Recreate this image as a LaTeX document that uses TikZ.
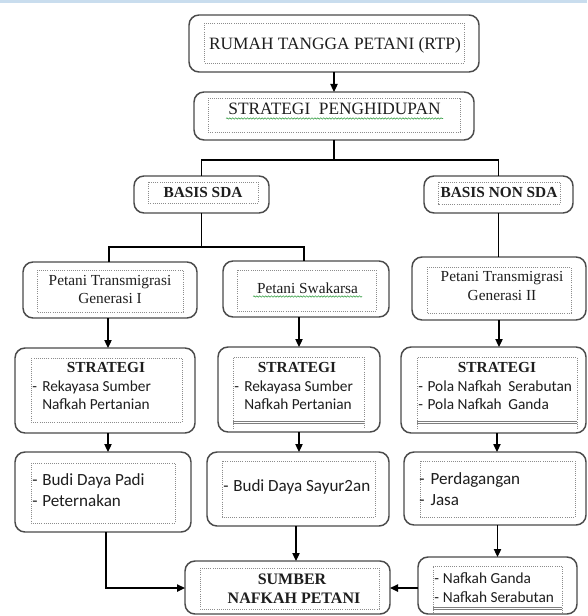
\documentclass[tikz,border=0pt]{standalone}
\usepackage{fontspec}
\setmainfont{Liberation Serif}
\newfontfamily\calfont{Carlito}
\usetikzlibrary{arrows.meta,decorations.pathmorphing,calc}
\definecolor{boxgray}{HTML}{4A4A4A}
\definecolor{dotgray}{HTML}{8C8C8C}
\definecolor{txt}{HTML}{1E1E1E}
\definecolor{topbar}{HTML}{C9DDEE}
\definecolor{squiggreen}{HTML}{3FA34D}
\begin{document}
\begin{tikzpicture}[x=0.75pt,y=-0.75pt,
  obox/.style 2 args={draw=boxgray, line width=1.1pt, rounded corners=7.5pt,
    minimum width=#1*0.75pt, minimum height=#2*0.75pt, inner sep=0pt, outer sep=0pt},
  ibox/.style={draw=dotgray, densely dotted, line width=0.6pt},
  dblline/.style={draw=dotgray!90!black, line width=0.5pt},
  ln/.style={draw=black, line width=0.9pt},
  arr/.style={ln, -{Triangle[length=6pt,width=5.5pt]}},
  ttl/.style={inner sep=0pt, anchor=base, text=txt, font=\fontsize{13}{15}\selectfont},
  bttl/.style={inner sep=0pt, anchor=base, text=txt, font=\bfseries\fontsize{11.5}{13}\selectfont},
  pttl/.style={inner sep=0pt, anchor=base, text=txt, font=\fontsize{11.5}{13}\selectfont},
  blist/.style={inner sep=0pt, anchor=base west, text=txt, font=\calfont\fontsize{11.5}{#1}\selectfont},
  squig/.style={draw=squiggreen, line width=0.45pt, decorate,
    decoration={snake, amplitude=0.5pt, segment length=2.2pt}}
]
\useasboundingbox (0,0) rectangle (587,616);
\fill[white] (0,0) rectangle (587,616);
\fill[topbar] (0,0) rectangle (587,3);

% Row 1
\node[obox={290}{57}] (rtp) at (334,43.5) {};
\draw[ibox] (204,23) rectangle (464,63);
\node[ttl] (rtpt) at (335,50) {RUMAH TANGGA PETANI (RTP)};

\node[obox={280}{48}] (sp) at (334,116) {};
\draw[ibox] (208,98) rectangle (460,132);
\node[ttl] (spt) at (334.5,115) {STRATEGI\ \ PENGHIDUPAN};
\draw[squig] (226,118.5) -- (443,118.5);

% Row 2
\node[obox={135}{37}] (sda) at (201.5,194.5) {};
\draw[ibox] (148,182) rectangle (258,203);
\node[bttl] (sdat) at (203,198) {BASIS SDA};

\node[obox={149}{37}] (nonsda) at (498.5,194.5) {};
\draw[ibox] (438,182) rectangle (560,204);
\node[bttl] (nonsdat) at (499,198) {BASIS NON SDA};

% Row 3
\node[obox={174}{56}] (ptg1) at (110,290) {};
\draw[ibox] (37,270) rectangle (183,312);
\node[pttl] (ptg1a) at (110,285) {Petani Transmigrasi};
\node[pttl] (ptg1b) at (110,303) {Generasi I};

\node[obox={166}{56}] (swa) at (306,289) {};
\draw[ibox] (237,270) rectangle (376,311);
\node[pttl] (swat) at (307.5,293) {Petani\ Swakarsa};
\draw[squig] (253,296.5) -- (362,296.5);

\node[obox={174}{63}] (ptg2) at (499,288.5) {};
\draw[ibox] (427,267) rectangle (571,313);
\node[pttl] (ptg2a) at (502,281) {Petani Transmigrasi};
\node[pttl] (ptg2b) at (502,300) {Generasi II};

% Row 4
\node[obox={180}{85}] (st1) at (105,390.5) {};
\draw[ibox] (31,358) rectangle (182,422);
\node[bttl] (st1t) at (106,372) {STRATEGI};
\node[blist=13.5] (st1l) at (32,391) {\begin{tabular}[t]{@{}l@{}l@{}}\makebox[7.5pt][l]{-}&Rekayasa Sumber\\ &Nafkah\ Pertanian\end{tabular}};

\node[obox={162}{85}] (st2) at (299,389.5) {};
\draw[ibox] (233,429) -- (233,357) -- (364,357) -- (364,429);
\draw[dblline] (233,421) -- (364,421);
\draw[dblline] (233,423.5) -- (364,423.5);
\node[bttl] (st2t) at (297,372) {STRATEGI};
\node[blist=13.5] (st2l) at (234,391) {\begin{tabular}[t]{@{}l@{}l@{}}\makebox[7.5pt][l]{-}&Rekayasa Sumber\\ &Nafkah\ Pertanian\end{tabular}};

\node[obox={185}{86}] (st3) at (493.5,390) {};
\draw[ibox] (417,429) -- (417,357) -- (577,357) -- (577,429);
\draw[dblline] (417,421) -- (577,421);
\draw[dblline] (417,423.5) -- (577,423.5);
\node[bttl] (st3t) at (497,372) {STRATEGI};
\node[blist=13.5] (st3l) at (418,391) {\begin{tabular}[t]{@{}l@{}l@{}}\makebox[7pt][l]{-}&Pola Nafkah\hspace{5pt}Serabutan\\ \makebox[7pt][l]{-}&Pola Nafkah\hspace{5pt}Ganda\end{tabular}};

% Row 5
\node[obox={176}{80}] (budi) at (103,492) {};
\draw[ibox] (31,463) rectangle (175,523);
\node[blist=15.75, font=\calfont\fontsize{12.8}{15.75}\selectfont] (budil) at (32,485) {\begin{tabular}[t]{@{}l@{}l@{}}\makebox[7.5pt][l]{-}&Budi Daya Padi\\ \makebox[7.5pt][l]{-}&Peternakan\end{tabular}};

\node[obox={182}{74}] (sayur) at (298,489) {};
\draw[ibox] (222,461) rectangle (375,517);
\node[blist=15.75, font=\calfont\fontsize{12.8}{15.75}\selectfont] (sayurl) at (223,491) {\makebox[7.5pt][l]{-}Budi Daya Sayur2an};

\node[obox={182}{73}] (dag) at (495,488.5) {};
\draw[ibox] (420,461) rectangle (575,517);
\node[blist=15.75, font=\calfont\fontsize{12.8}{15.75}\selectfont] (dagl) at (419,484) {\begin{tabular}[t]{@{}l@{}l@{}}\makebox[8.5pt][l]{-}&Perdagangan\\ \makebox[8.5pt][l]{-}&Jasa\end{tabular}};

% Row 6
\node[obox={205}{53}] (sumber) at (287.5,587.5) {};
\draw[ibox] (200,568) rectangle (379,609);
\node[bttl, font=\bfseries\fontsize{12}{14}\selectfont] (sumbera) at (292,584) {SUMBER};
\node[bttl, font=\bfseries\fontsize{12}{14}\selectfont] (sumberb) at (294,603) {NAFKAH PETANI};

\node[obox={159}{57}] (nafkah) at (497.5,585.5) {};
\draw[ibox] (433,613) -- (433,566) -- (562,566) -- (562,613);
\draw[dblline] (433,607) -- (562,607);
\draw[dblline] (433,609.5) -- (562,609.5);
\node[blist=14.25] (nafkahl) at (434,583) {\begin{tabular}[t]{@{}l@{}l@{}}\makebox[6.5pt][l]{-}&Nafkah Ganda\\ \makebox[6.5pt][l]{-}&Nafkah Serabutan\end{tabular}};

% Connectors
\draw[arr] (rtp.south) -- (sp.north);
\coordinate (j1) at (334,160);
\draw[ln] (sp.south) -- (j1);
\draw[ln] (sda.north) |- (j1) -| (nonsda.north);
\coordinate (j2) at (202,247);
\draw[ln] (sda.south) -- (sda.south |- j2);
\draw[ln] ([xshift=-0.75pt]ptg1.north) |- (j2) -| ([xshift=-1.5pt]swa.north);
\draw[ln] (nonsda.south) -- (nonsda.south |- ptg2.north);

\draw[arr] ([xshift=-1.5pt]ptg1.south) -- ([xshift=-1.5pt]ptg1.south |- st1.north);
\draw[arr] (st2.north |- swa.south) -- (st2.north);
\draw[arr] (ptg2.south) -- (ptg2.south |- st3.north);

\draw[arr] ([xshift=2.25pt]st1.south) -- ([xshift=2.25pt]st1.south |- budi.north);
\draw[arr] (st2.south) -- (st2.south |- sayur.north);
\draw[arr] ([xshift=2.6pt]st3.south) -- ([xshift=2.6pt]st3.south |- dag.north);

\draw[arr] ([xshift=2.25pt]budi.south) |- ([yshift=-0.4pt]sumber.west);
\draw[arr] ([xshift=-1.5pt]sayur.south) -- ([xshift=-1.5pt]sayur.south |- sumber.north);
\draw[arr] (nafkah.north |- dag.south) -- (nafkah.north);
\draw[arr] ([yshift=-1.9pt]nafkah.west) -- ([yshift=-1.9pt]nafkah.west -| sumber.east);
\end{tikzpicture}
\end{document}
